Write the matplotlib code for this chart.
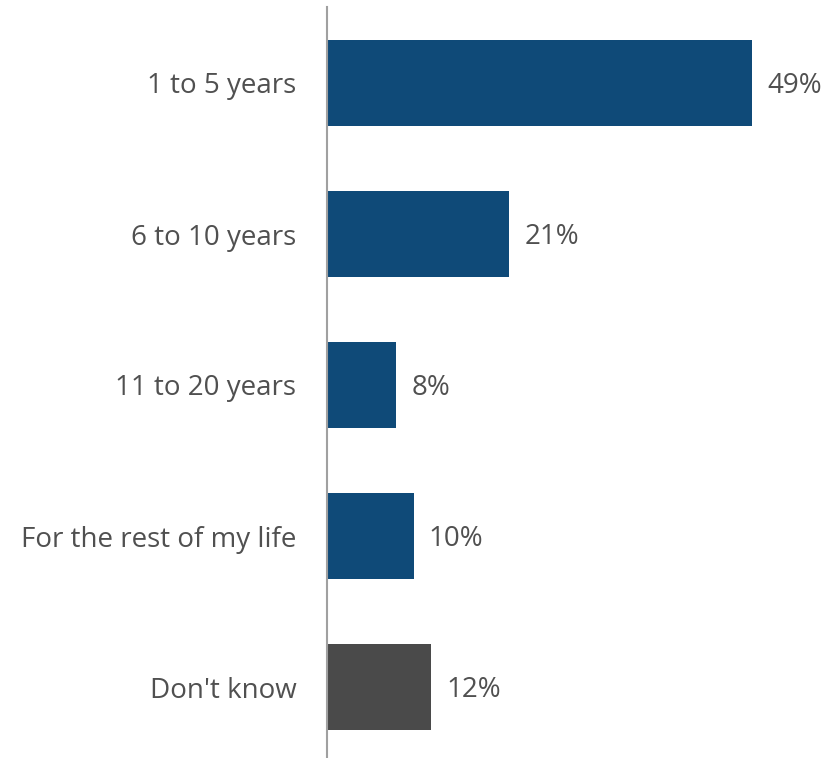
import matplotlib
matplotlib.use("Agg")
import matplotlib.pyplot as plt

categories = ["1 to 5 years", "6 to 10 years", "11 to 20 years",
              "For the rest of my life", "Don't know"]
values = [49, 21, 8, 10, 12]
bar_colors = ["#0F4A78", "#0F4A78", "#0F4A78", "#0F4A78", "#4A4A4A"]

plt.rcParams["font.family"] = ["Open Sans", "DejaVu Sans"]
text_color = "#505050"

fig = plt.figure(figsize=(8.28, 7.58), dpi=100)
ax = fig.add_axes([327 / 828, 0, 501 / 828, 751 / 758])

ypos = list(range(len(categories)))
ax.barh(ypos, values, height=0.57, color=bar_colors)

px_per_unit = 425 / 49
ax.set_xlim(0, 501 / px_per_unit)
ax.set_ylim(4 + 71 / 151, -76 / 151)

for y, v in zip(ypos, values):
    ax.text(v + 15 / px_per_unit, y + 0.02, f"{v}%", va="center", ha="left",
            fontsize=20, color=text_color)

ax.set_yticks(ypos)
ax.set_yticklabels(categories, fontsize=20, color=text_color)
ax.tick_params(axis="y", length=0, pad=22)
ax.set_xticks([])

for side in ["top", "right", "bottom"]:
    ax.spines[side].set_visible(False)
ax.spines["left"].set_color("#A0A0A0")
ax.spines["left"].set_linewidth(1.5)

fig.savefig("out.png", dpi=100)
